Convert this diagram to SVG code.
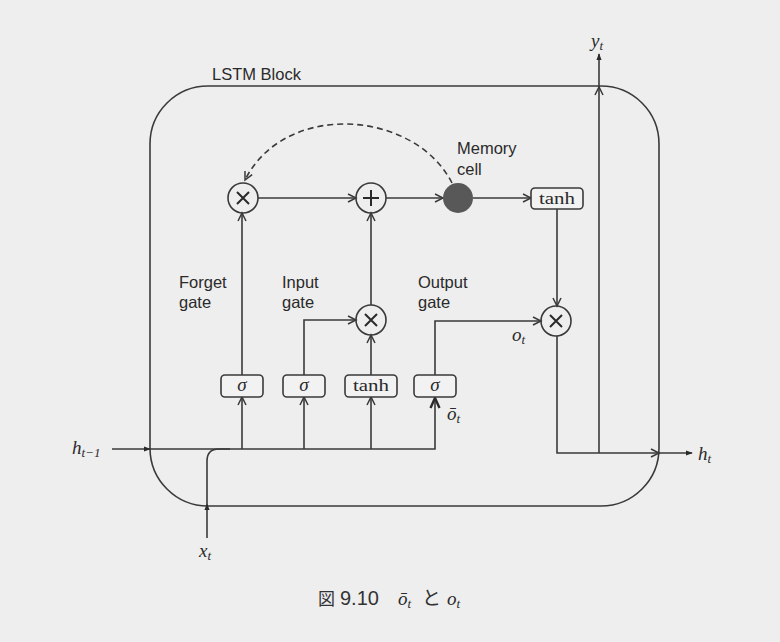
<svg xmlns="http://www.w3.org/2000/svg" width="780" height="642" viewBox="0 0 780 642">
<style>
.ln{fill:none;stroke:#3a3a3a;stroke-width:1.6}
.bx{fill:#f2f2f2;stroke:#3a3a3a;stroke-width:1.6}
.lbl{font-family:"Liberation Sans","Noto Sans",sans-serif;font-size:16.5px;fill:#2a2a2a}
.m{font-family:"Liberation Serif","DejaVu Serif",serif;font-style:italic;font-size:19px;fill:#2a2a2a}
.rm{font-family:"Liberation Serif","DejaVu Serif",serif;font-size:17px;fill:#2a2a2a}
.sub{font-size:13px}
.op{stroke:#2a2a2a;stroke-width:2;fill:none}
</style>
<defs>
<marker id="open" viewBox="0 0 10 10" refX="9" refY="5" markerWidth="10" markerHeight="10" markerUnits="userSpaceOnUse" orient="auto" overflow="visible">
<path d="M1,1 L9,5 L1,9" fill="none" stroke="#3a3a3a" stroke-width="1.5"/>
</marker>
<marker id="fill" viewBox="0 0 8 8" refX="7" refY="4" markerWidth="7" markerHeight="7" markerUnits="userSpaceOnUse" orient="auto">
<path d="M0,1 L8,4 L0,7 Z" fill="#2a2a2a"/>
</marker>
<marker id="bold" viewBox="0 0 12 12" refX="11" refY="6" markerWidth="12" markerHeight="12" markerUnits="userSpaceOnUse" orient="auto" overflow="visible">
<path d="M1,1.5 L11,6 L1,10.5" fill="none" stroke="#2a2a2a" stroke-width="2.4"/>
</marker>
</defs>
<rect width="780" height="642" fill="#eeeeee"/>

<g id="lstm-block">
<rect class="ln" x="150" y="86" width="509" height="420" rx="58" ry="58"/>
<text class="lbl" x="212" y="80">LSTM Block</text>
</g>

<g id="connectors">
<path class="ln" d="M258,198 H356" marker-end="url(#open)"/>
<path class="ln" d="M386,198 H443" marker-end="url(#open)"/>
<path class="ln" d="M473,198 H531" marker-end="url(#open)"/>
<path class="ln" d="M557,209 V306" marker-end="url(#open)"/>
<path class="ln" d="M452,183 C415,110 285,100 245,180" stroke-dasharray="6,4" marker-end="url(#open)"/>
<path class="ln" d="M242,375 V213" marker-end="url(#open)"/>
<path class="ln" d="M371,305 V213" marker-end="url(#open)"/>
<path class="ln" d="M304,375 V320 H356" marker-end="url(#open)"/>
<path class="ln" d="M371,375 V335" marker-end="url(#open)"/>
<path class="ln" d="M435,375 V321 H541" marker-end="url(#open)"/>
<path class="ln" d="M557,336 V453 H659" marker-end="url(#open)"/>
<path class="ln" d="M659,453 H692" marker-end="url(#fill)"/>
<path class="ln" d="M599,453 V87" marker-end="url(#open)"/>
<path class="ln" d="M599,87 V54" marker-end="url(#fill)"/>
<path class="ln" d="M112,449 H150" marker-end="url(#fill)"/>
<path class="ln" d="M150,449 H435 V398" stroke-width="2" marker-end="url(#bold)"/>
<path class="ln" d="M242,449 V397" marker-end="url(#open)"/>
<path class="ln" d="M304,449 V397" marker-end="url(#open)"/>
<path class="ln" d="M371,449 V397" marker-end="url(#open)"/>
<path class="ln" d="M207,538 V504" stroke-width="2" marker-end="url(#fill)"/>
<path class="ln" d="M207,504 V461 Q207,449 219,449 H230" stroke-width="2"/>
</g>

<g id="forget-mult">
<circle class="ln" cx="243" cy="198" r="15" fill="#f2f2f2"/>
<path class="op" d="M237,192 L249,204 M249,192 L237,204"/>
</g>
<g id="add">
<circle class="ln" cx="371" cy="198" r="15" fill="#f2f2f2"/>
<path class="op" d="M371,190 V206 M363,198 H379"/>
</g>
<g id="memory-cell">
<circle cx="458" cy="198" r="15" fill="#585858"/>
<text class="lbl" x="457" y="154">Memory</text>
<text class="lbl" x="457" y="175">cell</text>
</g>
<g id="tanh-out">
<rect class="bx" x="531" y="188" width="52" height="21" rx="4"/>
<text class="rm" x="557" y="204" text-anchor="middle" textLength="36" lengthAdjust="spacingAndGlyphs">tanh</text>
</g>
<g id="input-mult">
<circle class="ln" cx="371" cy="320" r="15" fill="#f2f2f2"/>
<path class="op" d="M365,314 L377,326 M377,314 L365,326"/>
</g>
<g id="output-mult">
<circle class="ln" cx="556" cy="321" r="15" fill="#f2f2f2"/>
<path class="op" d="M550,315 L562,327 M562,315 L550,327"/>
</g>
<g id="forget-gate">
<rect class="bx" x="221" y="375" width="42" height="22" rx="4"/>
<text class="m" x="242" y="391" text-anchor="middle" font-size="16">σ</text>
<text class="lbl" x="179" y="288">Forget</text>
<text class="lbl" x="179" y="308">gate</text>
</g>
<g id="input-gate">
<rect class="bx" x="283" y="375" width="42" height="22" rx="4"/>
<text class="m" x="304" y="391" text-anchor="middle" font-size="16">σ</text>
<text class="lbl" x="282" y="288">Input</text>
<text class="lbl" x="282" y="308">gate</text>
</g>
<g id="tanh-in">
<rect class="bx" x="345" y="375" width="52" height="22" rx="4"/>
<text class="rm" x="371" y="391" text-anchor="middle" textLength="36" lengthAdjust="spacingAndGlyphs">tanh</text>
</g>
<g id="output-gate">
<rect class="bx" x="414" y="375" width="42" height="22" rx="4"/>
<text class="m" x="435" y="391" text-anchor="middle" font-size="16">σ</text>
<text class="lbl" x="418" y="288">Output</text>
<text class="lbl" x="418" y="308">gate</text>
</g>

<g id="labels">
<text class="m" x="591" y="47">y<tspan class="sub" dy="3">t</tspan></text>
<text class="m" x="698" y="460">h<tspan class="sub" dy="3">t</tspan></text>
<text class="m" x="72" y="454">h<tspan class="sub" dy="3">t−1</tspan></text>
<text class="m" x="199" y="557">x<tspan class="sub" dy="3">t</tspan></text>
<text class="m" x="512" y="341">o<tspan class="sub" dy="3">t</tspan></text>
<text class="m" x="447" y="420">ō<tspan class="sub" dy="3">t</tspan></text>
</g>

<g id="caption">
<text x="318" y="605" font-family="'Noto Sans CJK JP',sans-serif" font-size="17" fill="#333">図</text>
<text x="340" y="605" font-family="'Liberation Sans',sans-serif" font-size="20" fill="#333">9.10</text>
<text class="m" x="398" y="605" fill="#333">ō<tspan class="sub" dy="3">t</tspan></text>
<text x="422" y="605" font-family="'Noto Sans CJK JP',sans-serif" font-size="19" fill="#333">と</text>
<text class="m" x="447" y="605" fill="#333">o<tspan class="sub" dy="3">t</tspan></text>
</g>
</svg>
